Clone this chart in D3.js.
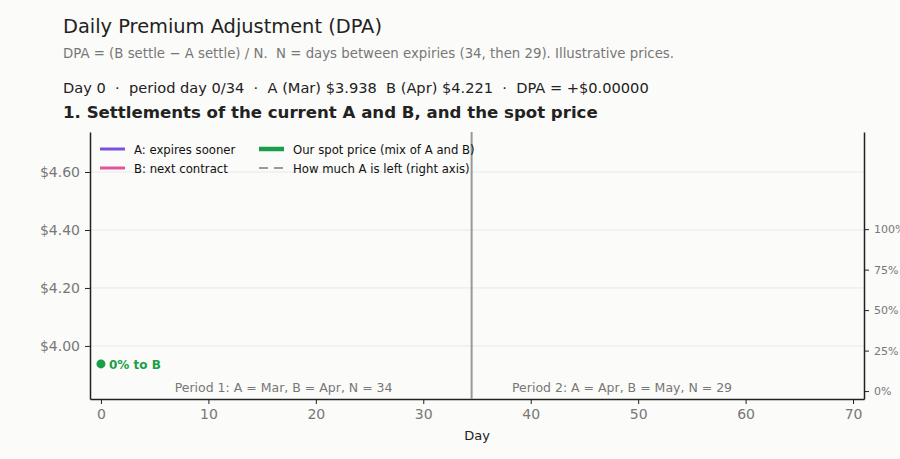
<!DOCTYPE html>
<html>
<head>
<meta charset="utf-8">
<script src="https://cdn.jsdelivr.net/npm/d3@7"></script>
<style>
  body { margin: 0; background: #fbfbf9; }
  svg { display: block; font-family: "DejaVu Sans", sans-serif; }
  .axis path, .axis line { stroke: #222; }
  .axis text { fill: #777; font-family: "DejaVu Sans", sans-serif; }
</style>
</head>
<body>
<div id="chart"></div>
<script>
// frame 0 of the animation: only the first day is drawn
let days = [0];
let aSettle = [3.938];
let bSettle = [4.221];
let spot = [3.938];
let aLeft = [100];

let xTicks = [0, 10, 20, 30, 40, 50, 60, 70];
let priceTicks = [4.0, 4.2, 4.4, 4.6];
let pctTicks = [0, 25, 50, 75, 100];
let rollDay = 34.5;
let periods = [
  {label: "Period 1: A = Mar, B = Apr, N = 34", mid: 17},
  {label: "Period 2: A = Apr, B = May, N = 29", mid: 48.5}
];

let width = 900, height = 459;
let plotL = 90, plotR = 864, plotT = 132, plotB = 399;

let svg = d3.select("#chart").append("svg")
  .attr("width", width).attr("height", height);

svg.append("rect").attr("width", width).attr("height", height).attr("fill", "#fbfbf9");

// headings
svg.append("text").text("Daily Premium Adjustment (DPA)")
  .attr("x", 63).attr("y", 33).attr("font-size", 19.4).attr("fill", "#222");
svg.append("text").text("DPA = (B settle \u2212 A settle) / N.  N = days between expiries (34, then 29). Illustrative prices.")
  .attr("x", 63).attr("y", 58).attr("font-size", 13.3).attr("fill", "#777")
  .style("white-space", "pre");
svg.append("text").text("Day 0  \u00b7  period day 0/34  \u00b7  A (Mar) $3.938  B (Apr) $4.221  \u00b7  DPA = +$0.00000")
  .attr("x", 63).attr("y", 92.5).attr("font-size", 14.6).attr("fill", "#222")
  .style("white-space", "pre");
svg.append("text").text("1. Settlements of the current A and B, and the spot price")
  .attr("x", 63).attr("y", 118).attr("font-size", 16.6).attr("font-weight", "bold").attr("fill", "#222");

let x = d3.scaleLinear().domain([-1.02, 71.02]).range([plotL, plotR]);
let y = d3.scaleLinear().domain([3.817, 4.738]).range([plotB, plotT]);
let y2 = d3.scaleLinear().domain([-4.9, 160]).range([plotB, plotT]);

// grid
svg.append("g").selectAll("line").data(priceTicks).join("line")
  .attr("x1", plotL).attr("x2", plotR)
  .attr("y1", d => y(d)).attr("y2", d => y(d))
  .attr("stroke", "#e8e8e6").attr("stroke-width", 1);

// axes
let xAxis = svg.append("g").attr("class", "axis")
  .attr("transform", "translate(0," + plotB + ")")
  .call(d3.axisBottom(x).tickValues(xTicks).tickSize(5).tickSizeOuter(0).tickPadding(5));
xAxis.selectAll("text").attr("font-size", 14);
xAxis.select(".domain").attr("stroke-width", 1.5);

let yAxis = svg.append("g").attr("class", "axis")
  .attr("transform", "translate(" + plotL + ",0)")
  .call(d3.axisLeft(y).tickValues(priceTicks).tickFormat(d => "$" + d.toFixed(2)).tickSize(5).tickSizeOuter(0).tickPadding(5));
yAxis.selectAll("text").attr("font-size", 14);
yAxis.select(".domain").attr("stroke-width", 1.5);

let y2Axis = svg.append("g").attr("class", "axis")
  .attr("transform", "translate(" + plotR + ",0)")
  .call(d3.axisRight(y2).tickValues(pctTicks).tickFormat(d => d + "%").tickSize(5).tickSizeOuter(0).tickPadding(5));
y2Axis.selectAll("text").attr("font-size", 11);
y2Axis.select(".domain").attr("stroke-width", 1.5);

// roll line
svg.append("line")
  .attr("x1", x(rollDay)).attr("x2", x(rollDay))
  .attr("y1", plotT).attr("y2", plotB)
  .attr("stroke", "#999").attr("stroke-width", 2);

// period labels
svg.append("g").selectAll("text").data(periods).join("text")
  .text(d => d.label)
  .attr("x", d => x(d.mid)).attr("y", plotB - 7.5)
  .attr("text-anchor", "middle").attr("font-size", 12.5).attr("fill", "#777");

// series
let line = d3.line().x((d, i) => x(days[i])).y(d => y(d));
svg.append("path").datum(aSettle).attr("d", line).attr("fill", "none").attr("stroke", "#7b4fe0").attr("stroke-width", 2.5);
svg.append("path").datum(bSettle).attr("d", line).attr("fill", "none").attr("stroke", "#e0559a").attr("stroke-width", 2.5);
svg.append("path").datum(spot).attr("d", line).attr("fill", "none").attr("stroke", "#1a9e4a").attr("stroke-width", 4);
svg.append("path").datum(aLeft)
  .attr("d", d3.line().x((d, i) => x(days[i])).y(d => y2(d)))
  .attr("fill", "none").attr("stroke", "#999").attr("stroke-width", 2).attr("stroke-dasharray", "8,6");

// current spot marker
let last = spot.length - 1;
svg.append("circle")
  .attr("cx", x(days[last])).attr("cy", y(spot[last])).attr("r", 4.5)
  .attr("fill", "#1a9e4a");
svg.append("text").text((100 - aLeft[last]) + "% to B")
  .attr("x", x(days[last]) + 8).attr("y", y(spot[last]) + 5)
  .attr("font-size", 12).attr("font-weight", "bold").attr("fill", "#1a9e4a");

// legend
let legend = [
  {label: "A: expires sooner", color: "#7b4fe0", w: 3, dash: null, col: 0, row: 0},
  {label: "B: next contract", color: "#e0559a", w: 3, dash: null, col: 0, row: 1},
  {label: "Our spot price (mix of A and B)", color: "#1a9e4a", w: 4.5, dash: null, col: 1, row: 0},
  {label: "How much A is left (right axis)", color: "#999", w: 2, dash: "9,6", col: 1, row: 1}
];
let colX = [100, 259];
let lg = svg.append("g").selectAll("g").data(legend).join("g")
  .attr("transform", d => "translate(" + colX[d.col] + "," + (149 + d.row * 19) + ")");
lg.append("line").attr("x1", 0).attr("x2", 25).attr("y1", 0).attr("y2", 0)
  .attr("stroke", d => d.color).attr("stroke-width", d => d.w)
  .attr("stroke-dasharray", d => d.dash);
lg.append("text").text(d => d.label)
  .attr("x", 34).attr("y", 4.5).attr("font-size", 11.7).attr("fill", "#111");

// x label
svg.append("text").text("Day")
  .attr("x", (plotL + plotR) / 2).attr("y", 440)
  .attr("text-anchor", "middle").attr("font-size", 13).attr("fill", "#222");
</script>
</body>
</html>
